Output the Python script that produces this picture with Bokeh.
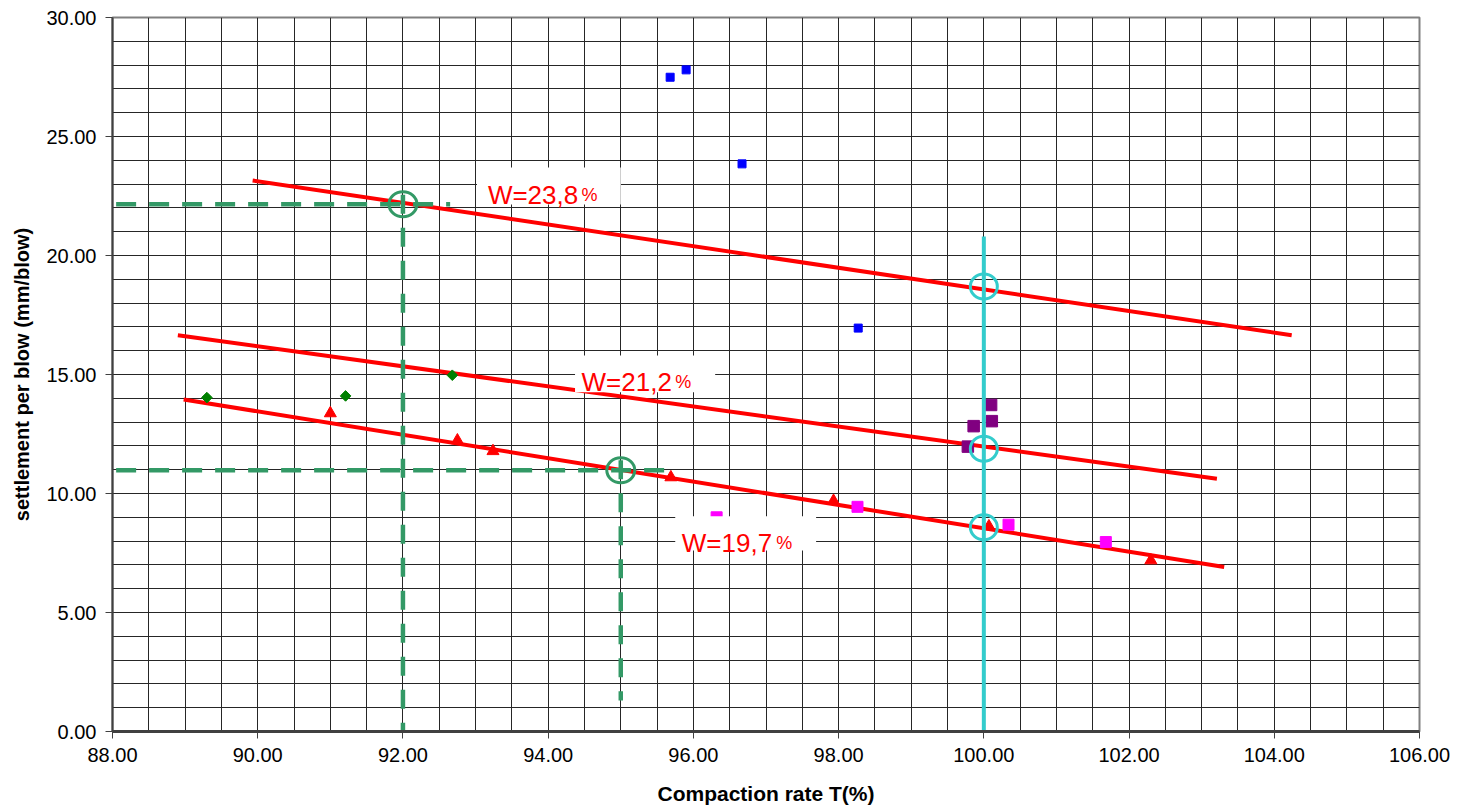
from bokeh.plotting import figure
from bokeh.models import FixedTicker, Range1d, PrintfTickFormatter
from bokeh.core.properties import value
from bokeh.embed import file_html
from bokeh.resources import INLINE
import numpy as np

# ---------------- data ----------------
blue_x = [95.68, 95.90, 96.67, 98.27]
blue_y = [27.49, 27.80, 23.85, 16.95]

green_x = [89.30, 91.21, 92.68]
green_y = [14.03, 14.10, 14.97]

tri_x = [91.00, 92.75, 93.24, 95.69, 97.93, 100.07, 102.30]
tri_y = [13.37, 12.23, 11.78, 10.68, 9.69, 8.62, 7.19]

mag_x = [96.32, 98.26, 100.34, 101.68]
mag_y = [9.00, 9.44, 8.69, 7.96]

pur_x = [99.78, 99.86, 100.11, 100.10]
pur_y = [11.97, 12.83, 13.04, 13.72]

# fitted lines per water content
w_labels = ["W=23,8", "W=21,2", "W=19,7"]
fit_x0 = [89.93, 88.90, 88.98]
fit_y0 = [23.15, 16.65, 13.95]
fit_x1 = [104.24, 103.21, 103.31]
fit_y1 = [16.65, 10.62, 6.91]

# label anchors (text start / baseline) and their white boxes
lab_x = [93.17, 94.46, 95.84]
lab_y = [22.53, 14.68, 7.90]
pct_x = [94.46, 95.75, 97.14]
box_left = [93.02, 94.37, 95.75]
box_right = [95.00, 96.30, 97.69]
box_bottom = [22.14, 14.25, 7.61]
box_top = [23.70, 15.80, 9.04]

# reading lines (green dashed)
ref_T = [92.0, 95.0]
ref_s = [22.15, 10.98]
ref_h_start = 88.05
ref_h_end = [92.65, 95.65]
ref_v_top = [22.55, 11.40]
ref_v_end = [0.0, 1.3]

# T = 100 % reading (cyan)
target_T = 100.0
target_top = 20.8
target_s = [18.70, 11.88, 8.58]

x_ticks = list(range(88, 107, 2))
y_ticks = list(range(0, 31, 5))

x_title = "Compaction rate T(%)"
y_title = "settlement per blow (mm/blow)"

FONT = "Liberation Sans"

# ---------------- figure ----------------
p = figure(width=1458, height=808, output_backend="svg", toolbar_location=None,
           x_range=Range1d(88, 106), y_range=Range1d(0, 30),
           min_border_left=112, min_border_right=39, min_border_top=17, min_border_bottom=77)
p.background_fill_color = "white"
p.border_fill_color = "white"
p.outline_line_color = "#808080"
p.outline_line_width = 2

# grid
p.xgrid.ticker = FixedTicker(ticks=list(np.arange(88, 106.01, 0.5)))
p.ygrid.ticker = FixedTicker(ticks=list(range(0, 31)))
for g in (p.xgrid, p.ygrid):
    g.grid_line_color = "#262626"
    g.grid_line_width = 1
    g.grid_line_alpha = 1

# axes
p.xaxis.ticker = FixedTicker(ticks=x_ticks)
p.yaxis.ticker = FixedTicker(ticks=y_ticks)
for ax in (p.xaxis, p.yaxis):
    ax.formatter = PrintfTickFormatter(format="%.2f")
    ax.major_label_text_font = FONT
    ax.major_label_text_font_size = "20px"
    ax.major_label_text_color = "black"
    ax.axis_label_text_font = FONT
    ax.axis_label_text_font_style = "bold"
    ax.axis_label_text_color = "black"
    ax.major_tick_out = 7
    ax.major_tick_in = 0
    ax.minor_tick_out = 0
    ax.minor_tick_in = 0
    ax.axis_line_color = "#404040"
    ax.major_tick_line_color = "#404040"
p.xaxis.axis_line_width = 3
p.yaxis.axis_line_width = 2
p.xaxis.axis_label = x_title
p.yaxis.axis_label = y_title
p.xaxis.axis_label_text_font_size = "21px"
p.yaxis.axis_label_text_font_size = "20px"
p.xaxis.major_label_standoff = 9
p.yaxis.major_label_standoff = 9
p.xaxis.axis_label_standoff = 17
p.yaxis.axis_label_standoff = 10

# fitted red lines
p.segment(x0=fit_x0, y0=fit_y0, x1=fit_x1, y1=fit_y1, line_color="#FF0000", line_width=4)

# data points
p.scatter(blue_x, blue_y, marker="square", size=8, fill_color="#0000FF", line_color="#0000FF")
p.scatter(green_x, green_y, marker="square", angle=np.pi / 4, size=7.5,
          fill_color="#008000", line_color="#008000")
p.scatter(tri_x, tri_y, marker="triangle", size=12, fill_color="#FF0000", line_color="#FF0000")
p.scatter(mag_x, mag_y, marker="square", size=11, fill_color="#FF00FF", line_color="#FF00FF")
p.scatter(pur_x, pur_y, marker="square", size=11.5, fill_color="#800080", line_color="#800080")

# labels with white boxes
p.quad(left=box_left, right=box_right, bottom=box_bottom, top=box_top,
       fill_color="white", line_color=None)
p.text(x=lab_x, y=lab_y, text=w_labels, text_font=value(FONT), text_font_size="26px",
       text_color="#FF0000", text_baseline="alphabetic", text_align="left")
p.text(x=pct_x, y=lab_y, text=["%"] * len(pct_x), text_font=value(FONT), text_font_size="18px",
       text_color="#FF0000", text_baseline="alphabetic", text_align="left")

# green dashed reading lines
for T, s, he, vt, ve in zip(ref_T, ref_s, ref_h_end, ref_v_top, ref_v_end):
    p.line([ref_h_start, he], [s, s], line_color="#339966", line_width=4.5, line_dash="20 13")
    p.line([T, T], [vt, ve], line_color="#339966", line_width=4.5, line_dash="19 14")
p.ellipse(x=ref_T, y=ref_s, width=28, height=25, width_units="screen", height_units="screen",
          fill_color=None, line_color="#339966", line_width=3)

# cyan T=100 line
p.line([target_T, target_T], [0, target_top], line_color="#33CCCC", line_width=4)
p.ellipse(x=[target_T] * len(target_s), y=target_s, width=27, height=25,
          width_units="screen", height_units="screen",
          fill_color=None, line_color="#33CCCC", line_width=3)

open("out.html", "w").write(file_html(p, INLINE))
